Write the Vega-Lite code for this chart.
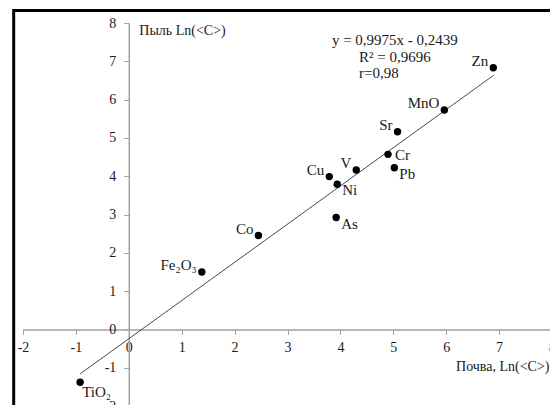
{
  "$schema": "https://vega.github.io/schema/vega-lite/v6.json",
  "width": 529,
  "height": 383,
  "autosize": "none",
  "padding": {"left": 23, "top": 23, "right": 0, "bottom": 0},
  "background": "white",
  "config": {
    "view": {"stroke": null},
    "font": "Liberation Serif",
    "axis": {
      "grid": false,
      "domainColor": "#a0a0a0",
      "domainWidth": 1.5,
      "tickColor": "#a0a0a0",
      "tickSize": 5,
      "labelFont": "Liberation Serif",
      "labelFontSize": 14,
      "labelColor": "#1a1a1a",
      "labelFlush": false,
      "labelBound": false,
      "titleFont": "Liberation Serif",
      "titleFontSize": 14,
      "titleFontWeight": "normal",
      "titleColor": "#1a1a1a"
    }
  },
  "datasets": {
    "points": [
      {"element": "Zn", "soil": 6.89, "dust": 6.83, "side": "upper-left"},
      {"element": "MnO", "soil": 5.965, "dust": 5.73, "side": "upper-left"},
      {"element": "Sr", "soil": 5.08, "dust": 5.16, "side": "upper-left"},
      {"element": "Cr", "soil": 4.9, "dust": 4.57, "side": "right"},
      {"element": "Pb", "soil": 5.02, "dust": 4.22, "side": "lower-right"},
      {"element": "V", "soil": 4.3, "dust": 4.16, "side": "upper-left"},
      {"element": "Cu", "soil": 3.79, "dust": 3.99, "side": "upper-left"},
      {"element": "Ni", "soil": 3.94, "dust": 3.79, "side": "lower-right"},
      {"element": "As", "soil": 3.92, "dust": 2.92, "side": "lower-right"},
      {"element": "Co", "soil": 2.45, "dust": 2.45, "side": "upper-left"},
      {"element": "Fe₂O₃", "soil": 1.38, "dust": 1.5, "side": "upper-left"},
      {"element": "TiO₂", "soil": -0.92, "dust": -1.38, "side": "below"}
    ],
    "trend": [
      {"soil": -0.92, "dust": -1.162},
      {"soil": 6.9, "dust": 6.639}
    ],
    "notes": [
      {"text": "y = 0,9975x  - 0,2439", "soil": 5.03, "dust": 7.556, "align": "center"},
      {"text": "R² = 0,9696", "soil": 5.03, "dust": 7.104, "align": "center"},
      {"text": "r=0,98", "soil": 4.353, "dust": 6.687, "align": "left"}
    ]
  },
  "layer": [
    {
      "data": {"values": [{"left": -2.176, "right": 9, "top": 8.326, "bottom": -3}]},
      "mark": {"type": "rect", "fill": null, "stroke": "black", "strokeWidth": 3, "clip": false},
      "encoding": {
        "x": {
          "field": "left", "type": "quantitative",
          "scale": {"domain": [-2, 8], "nice": false, "zero": false},
          "axis": {
            "offset": -76.6,
            "values": [-2, -1, 0, 1, 2, 3, 4, 5, 6, 7, 8],
            "tickCount": 20,
            "labelExpr": "datum.value + ''",
            "labelOverlap": false,
            "labelPadding": 6,
            "title": "Почва, Ln(<C>)",
            "titleAnchor": null,
            "titleAlign": "right",
            "titleBaseline": "middle",
            "titleX": 526,
            "titleY": 37
          }
        },
        "x2": {"field": "right"},
        "y": {
          "field": "top", "type": "quantitative",
          "scale": {"domain": [-2, 8], "nice": false, "zero": false},
          "axis": {
            "offset": -105.8,
            "values": [-2, -1, 0, 1, 2, 3, 4, 5, 6, 7, 8],
            "tickCount": 20,
            "labelExpr": "datum.value + ''",
            "labelPadding": 8,
            "labelOverlap": false,
            "title": "Пыль Ln(<C>)",
            "titleAngle": 0,
            "titleAlign": "left",
            "titleBaseline": "middle",
            "titleX": 10,
            "titleY": 7
          }
        },
        "y2": {"field": "bottom"}
      }
    },
    {
      "data": {"name": "trend"},
      "mark": {"type": "line", "color": "#484848", "strokeWidth": 1},
      "encoding": {
        "x": {"field": "soil", "type": "quantitative"},
        "y": {"field": "dust", "type": "quantitative"}
      }
    },
    {
      "data": {"name": "points"},
      "mark": {"type": "circle", "color": "black", "opacity": 1, "size": 55},
      "encoding": {
        "x": {"field": "soil", "type": "quantitative"},
        "y": {"field": "dust", "type": "quantitative"}
      }
    },
    {
      "data": {"name": "points"},
      "transform": [{"filter": "datum.side === 'upper-left'"}],
      "mark": {"type": "text", "align": "right", "baseline": "middle", "dx": -5, "dy": -7, "fontSize": 15, "color": "#1a1a1a"},
      "encoding": {
        "x": {"field": "soil", "type": "quantitative"},
        "y": {"field": "dust", "type": "quantitative"},
        "text": {"field": "element"}
      }
    },
    {
      "data": {"name": "points"},
      "transform": [{"filter": "datum.side === 'right'"}],
      "mark": {"type": "text", "align": "left", "baseline": "middle", "dx": 7, "dy": 1, "fontSize": 15, "color": "#1a1a1a"},
      "encoding": {
        "x": {"field": "soil", "type": "quantitative"},
        "y": {"field": "dust", "type": "quantitative"},
        "text": {"field": "element"}
      }
    },
    {
      "data": {"name": "points"},
      "transform": [{"filter": "datum.side === 'lower-right'"}],
      "mark": {"type": "text", "align": "left", "baseline": "middle", "dx": 5, "dy": 6, "fontSize": 15, "color": "#1a1a1a"},
      "encoding": {
        "x": {"field": "soil", "type": "quantitative"},
        "y": {"field": "dust", "type": "quantitative"},
        "text": {"field": "element"}
      }
    },
    {
      "data": {"name": "points"},
      "transform": [{"filter": "datum.side === 'below'"}],
      "mark": {"type": "text", "align": "left", "baseline": "middle", "dx": 2, "dy": 10, "fontSize": 15, "color": "#1a1a1a"},
      "encoding": {
        "x": {"field": "soil", "type": "quantitative"},
        "y": {"field": "dust", "type": "quantitative"},
        "text": {"field": "element"}
      }
    },
    {
      "data": {"name": "notes"},
      "transform": [{"filter": "datum.align === 'center'"}],
      "mark": {"type": "text", "align": "center", "baseline": "middle", "fontSize": 15, "color": "#1a1a1a"},
      "encoding": {
        "x": {"field": "soil", "type": "quantitative"},
        "y": {"field": "dust", "type": "quantitative"},
        "text": {"field": "text"}
      }
    },
    {
      "data": {"name": "notes"},
      "transform": [{"filter": "datum.align === 'left'"}],
      "mark": {"type": "text", "align": "left", "baseline": "middle", "fontSize": 15, "color": "#1a1a1a"},
      "encoding": {
        "x": {"field": "soil", "type": "quantitative"},
        "y": {"field": "dust", "type": "quantitative"},
        "text": {"field": "text"}
      }
    }
  ]
}
